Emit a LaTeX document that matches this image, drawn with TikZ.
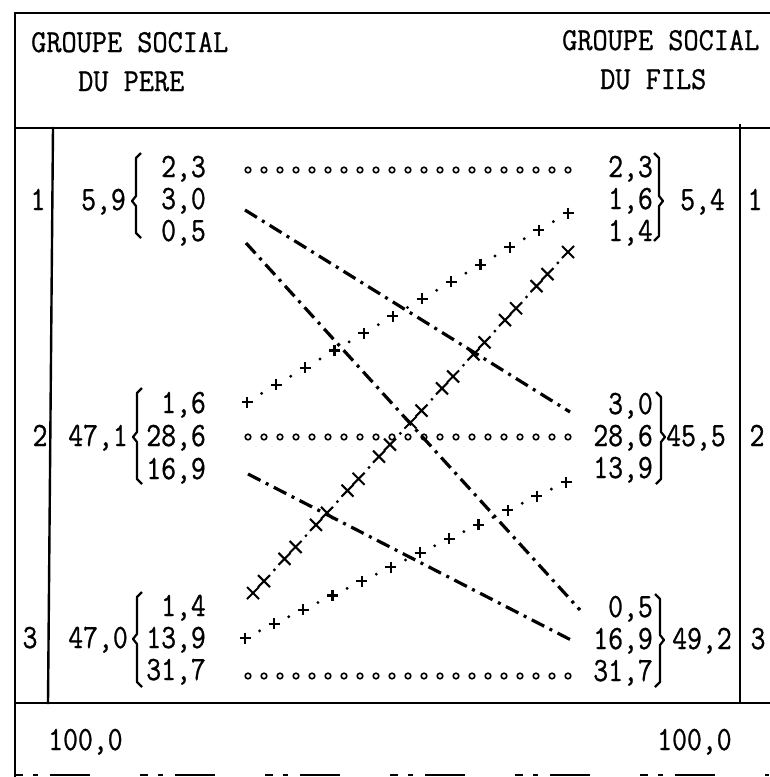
\documentclass[tikz,border=0pt]{standalone}
\usepackage{fontspec}
\newfontfamily\twnum{Latin Modern Mono}[FakeStretch=0.85, FakeBold=0.8]
\newfontfamily\twhead{Latin Modern Mono}[FakeStretch=0.92, FakeBold=0.8]
\usetikzlibrary{calc}
\newcommand\bracL[4]{\draw[bracepen] ({#1+5},#2) -- (#1,{#2+5}) -- (#1,{#3-5}) -- ({#1-4},#3) -- (#1,{#3+5}) -- (#1,{#4-5}) -- ({#1+5},#4);}
\newcommand\bracR[4]{\draw[bracepen] ({#1-5},#2) -- (#1,{#2+5}) -- (#1,{#3-5}) -- ({#1+4},#3) -- (#1,{#3+5}) -- (#1,{#4-5}) -- ({#1-5},#4);}
\newcommand\plusmark[1]{\draw[crosspen] (#1) +(-5.5,0) -- +(5.5,0) (#1) +(0,-5.5) -- +(0,5.5);}
\newcommand\xmark[1]{\draw[crosspen] (#1) +(-6,-6) -- +(6,6) (#1) +(-6,6) -- +(6,-6);}
\begin{document}
\begin{tikzpicture}[x=1pt,y=-1pt,
  frame/.style={line width=2.4pt, line cap=rect},
  tw/.style={font=\fontsize{34}{34}\twnum, inner sep=0pt},
  hd/.style={font=\fontsize{32}{32}\twhead, inner sep=0pt, anchor=base west},
  num/.style={tw, anchor=base east},
  lbl/.style={tw, anchor=base},
  lw/.style={tw, anchor=base west},
  ddash/.style={line width=3.2pt, dash pattern=on 14pt off 6pt on 3pt off 6pt},
  bracepen/.style={line width=2.2pt, line join=round},
  crosspen/.style={line width=2.1pt},
  ring/.style={line width=1.6pt}]
\useasboundingbox (0,0) rectangle (769,777);
% frame
\draw[frame] (15,777) -- (15,13) -- (769,13);
\draw[frame] (15,128) -- (769,128);
\draw[frame] (15,703) -- (769,703);
\draw[frame] (53,128) -- (48,703);
\draw[frame] (740,125) -- (740,703);
\draw[line width=1.2pt, dash pattern=on 8pt off 10pt on 5pt off 12pt on 40pt off 50pt] (15,775) -- (769,775);
% header
\node[hd] (hL1) at (31,52) {GROUPE SOCIAL};
\node[hd] (hL2) at (78,91) {DU PERE};
\node[hd] (hR1) at (562,50) {GROUPE SOCIAL};
\node[hd] (hR2) at (600,89) {DU FILS};
% row labels
\node[lbl] (l1) at (38,210) {1};
\node[lbl] (l2) at (40,446) {2};
\node[lbl] (l3) at (30,648) {3};
\node[lbl] (r1) at (755,210) {1};
\node[lbl] (r2) at (757,446) {2};
\node[lbl] (r3) at (758,649) {3};
% totals
\node[num] (tL1) at (126,210) {5,9};
\node[num] (tL2) at (128,446) {47,1};
\node[num] (tL3) at (128,648) {47,0};
\node[lw] (tR1) at (680,210) {5,4};
\node[lw] (tR2) at (666,446) {45,5};
\node[lw] (tR3) at (672,649) {49,2};
\node[lw] (sumL) at (48,750) {100,0};
\node[lw] (sumR) at (657,750) {100,0};
% left values
\node[num] (f11) at (206,177) {2,3};
\node[num] (f12) at (206,209) {3,0};
\node[num] (f13) at (206,241) {0,5};
\node[num] (f21) at (206,413) {1,6};
\node[num] (f22) at (206,446) {28,6};
\node[num] (f23) at (206,479) {16,9};
\node[num] (f31) at (206,616) {1,4};
\node[num] (f32) at (206,648) {13,9};
\node[num] (f33) at (206,680) {31,7};
% right values
\node[num] (s11) at (653,177) {2,3};
\node[num] (s12) at (653,209) {1,6};
\node[num] (s13) at (653,241) {1,4};
\node[num] (s21) at (653,414) {3,0};
\node[num] (s22) at (653,446) {28,6};
\node[num] (s23) at (653,478) {13,9};
\node[num] (s31) at (653,617) {0,5};
\node[num] (s32) at (653,649) {16,9};
\node[num] (s33) at (653,681) {31,7};
% braces
\bracL{136}{153}{201}{238}
\bracL{137}{388}{437}{484}
\bracL{137}{592}{639}{687}
\bracR{659}{153}{201}{241}
\bracR{661}{392}{437}{484}
\bracR{660}{594}{640}{687}
% endpoints
\coordinate (c1a) at (248,170); \coordinate (c1b) at (568,170);
\coordinate (c2a) at (248,437); \coordinate (c2b) at (568,437);
\coordinate (c3a) at (248,676); \coordinate (c3b) at (568,676);
\coordinate (d1a) at (245,210); \coordinate (d1b) at (570,412);
\coordinate (d2a) at (246,243); \coordinate (d2b) at (580,610);
\coordinate (d3a) at (248,474); \coordinate (d3b) at (573,641);
\coordinate (p1a) at (247,402); \coordinate (p1b) at (568,213);
\coordinate (p2a) at (253,593); \coordinate (p2b) at (568,252);
\coordinate (p3a) at (245,638); \coordinate (p3b) at (566,482);
% circle rows
\foreach \r in {1,2,3} {
  \foreach \i in {0,...,20} {\draw[ring] ($(c\r a)!\i/20!(c\r b)$) circle (2.8);}
}
% dash-dot lines
\draw[ddash] (d1a) -- (d1b);
\draw[ddash] (d2a) -- (d2b);
\draw[ddash] (d3a) -- (d3b);
% cross lines
\foreach \i in {0,...,11} {\plusmark{$(p1a)!\i/11!(p1b)$}}
\foreach \i [evaluate=\i as \t using (\i+0.5)/11] in {0,...,10} {\fill ($(p1a)!\t!(p1b)$) circle (1.6);}
\foreach \i in {0,...,11} {\plusmark{$(p3a)!\i/11!(p3b)$}}
\foreach \i [evaluate=\i as \t using (\i+0.5)/11] in {0,...,10} {\fill ($(p3a)!\t!(p3b)$) circle (1.6);}
\foreach \i [evaluate=\i as \t using \i/10, evaluate=\i as \u using (\i+0.35)/10, evaluate=\i as \v using (\i+0.68)/10] in {0,...,9} {
  \xmark{$(p2a)!\t!(p2b)$}
  \xmark{$(p2a)!\u!(p2b)$}
  \fill ($(p2a)!\v!(p2b)$) circle (1.6);
}
\xmark{p2b}
\end{tikzpicture}
\end{document}
